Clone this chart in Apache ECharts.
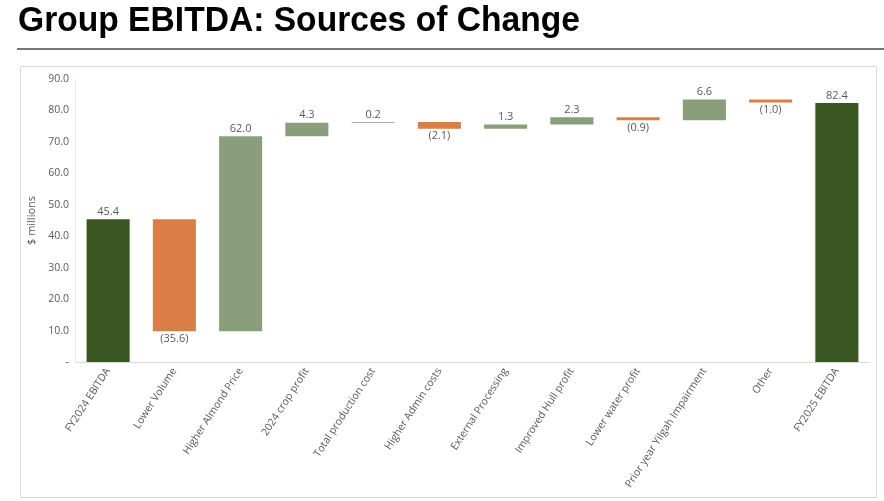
<!DOCTYPE html>
<html>
<head>
<meta charset="utf-8">
<script src="https://cdn.jsdelivr.net/npm/echarts@6/dist/echarts.min.js"></script>
<style>
html,body{margin:0;padding:0;background:#fff;}
#c{width:884px;height:501px;}
</style>
</head>
<body>
<div id="c"></div>
<script>
var categories = ["FY2024 EBITDA","Lower Volume","Higher Almond Price","2024 crop profit","Total production cost","Higher Admin costs","External Processing","Improved Hull profit","Lower water profit","Prior year Yilgah Impairment","Other","FY2025 EBITDA"];
var changes = [45.4, -35.6, 62.0, 4.3, 0.2, -2.1, 1.3, 2.3, -0.9, 6.6, -1.0, 82.4];
var kinds = ["total","delta","delta","delta","delta","delta","delta","delta","delta","delta","delta","total"];
var yTicks = [0, 10, 20, 30, 40, 50, 60, 70, 80, 90];

var COLORS = {total:'#3a5623', up:'#8a9e7b', down:'#d97e45'};

var baseData = [], valData = [];
var running = 0;
for (var i = 0; i < changes.length; i++) {
  var v = changes[i];
  if (kinds[i] === 'total') {
    running = v;
    baseData.push(0);
    valData.push({value: v, itemStyle:{color:COLORS.total}, label:{position:'top'}});
  } else {
    var start = running, end = running + v;
    running = end;
    baseData.push(Math.min(start, end));
    valData.push({value: Math.abs(v), itemStyle:{color: v >= 0 ? COLORS.up : COLORS.down}, label:{position: v >= 0 ? 'top' : 'bottom'}});
  }
}

function fmt(v){ return v < 0 ? '(' + Math.abs(v).toFixed(1) + ')' : v.toFixed(1); }

var chart = echarts.init(document.getElementById('c'));
chart.setOption({
  animation:false,
  graphic:[
    {type:'text', x:18, y:4, scaleX:0.96, style:{text:'Group EBITDA: Sources of Change', font:'bold 35px "Liberation Sans", Arial, sans-serif', fill:'#000'}},
    {type:'rect', shape:{x:17, y:48, width:867, height:2}, style:{fill:'#767676'}},
    {type:'rect', shape:{x:20.5, y:66.5, width:856, height:431}, style:{fill:'none', stroke:'#d9d9d9', lineWidth:1}, z:-1}
  ],
  grid:{left:75, right:14, top:79, bottom:139, containLabel:false},
  xAxis:{
    type:'category', data:categories,
    axisLine:{lineStyle:{color:'#d9d9d9'}},
    axisTick:{show:false},
    axisLabel:{rotate:57, interval:0, color:'#595959', fontSize:10.5, fontFamily:'"Open Sans", sans-serif', margin:7}
  },
  yAxis:{
    type:'value', min:0, max:90, interval:10,
    name:'$ millions', nameLocation:'middle', nameGap:38, nameRotate:90,
    nameTextStyle:{color:'#595959', fontSize:11, fontFamily:'"Open Sans", sans-serif'},
    axisLine:{show:true, lineStyle:{color:'#e6e6e6'}},
    axisTick:{show:false},
    splitLine:{show:false},
    axisLabel:{color:'#595959', fontSize:10.5, fontFamily:'"Open Sans", sans-serif', margin:6,
      formatter:function(v){ return yTicks.indexOf(v) >= 0 ? (v === 0 ? '-' : v.toFixed(1)) : ''; }}
  },
  series:[
    {type:'bar', stack:'w', data:baseData, itemStyle:{color:'transparent'}, barCategoryGap:'35%', silent:true},
    {type:'bar', stack:'w', data:valData, barCategoryGap:'35%',
      label:{show:true, color:'#595959', fontSize:11, fontFamily:'"Open Sans", sans-serif', distance:2,
        formatter:function(p){ return fmt(changes[p.dataIndex]); }}}
  ]
});
</script>
</body>
</html>
